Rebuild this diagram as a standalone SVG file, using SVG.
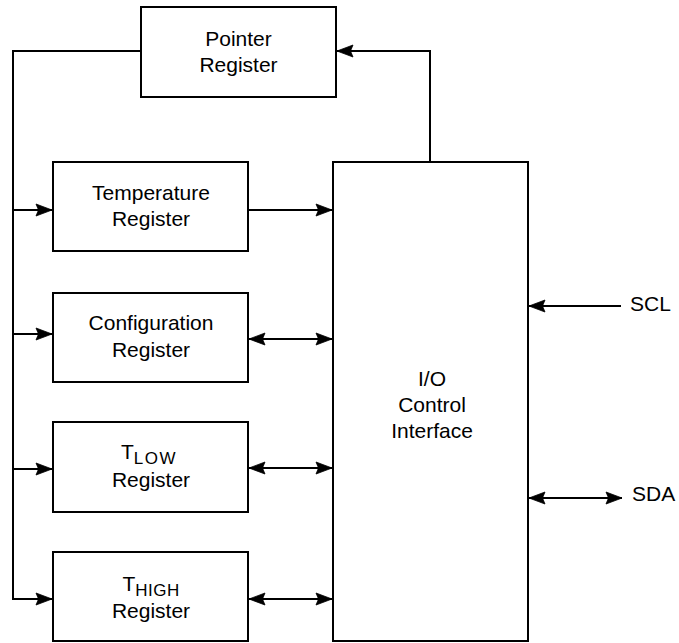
<svg xmlns="http://www.w3.org/2000/svg" width="679" height="643" viewBox="0 0 679 643">
<style>
.box{fill:#fff;stroke:#000;stroke-width:2}
.ln{fill:none;stroke:#000;stroke-width:2}
.t{font-family:"Liberation Sans",Arial,sans-serif;font-size:21px;fill:#000;text-anchor:middle}
.l{font-family:"Liberation Sans",Arial,sans-serif;font-size:21px;fill:#000}
</style>
<defs>
<marker id="ah" viewBox="-17 -7 18 14" markerWidth="18" markerHeight="14" refX="0" refY="0" markerUnits="userSpaceOnUse" orient="auto-start-reverse">
<path d="M0,0 L-16,-6 L-13.5,0 L-16,6 Z" fill="#000" stroke="#000" stroke-width="0.8" stroke-linejoin="miter"/>
</marker>
</defs>
<g id="connectors">
<path class="ln" d="M141,51 H13 V599 H52" marker-end="url(#ah)"/>
<path class="ln" d="M13,210 H52" marker-end="url(#ah)"/>
<path class="ln" d="M13,334 H52" marker-end="url(#ah)"/>
<path class="ln" d="M13,469 H52" marker-end="url(#ah)"/>
<path class="ln" d="M249,210 H332" marker-end="url(#ah)"/>
<path class="ln" d="M249,339 H332" marker-start="url(#ah)" marker-end="url(#ah)"/>
<path class="ln" d="M249,468 H332" marker-start="url(#ah)" marker-end="url(#ah)"/>
<path class="ln" d="M249,599 H332" marker-start="url(#ah)" marker-end="url(#ah)"/>
<path class="ln" d="M430,162 V51 H337" marker-end="url(#ah)"/>
<path class="ln" d="M621,306 H529" marker-end="url(#ah)"/>
<path class="ln" d="M529,498 H622" marker-start="url(#ah)" marker-end="url(#ah)"/>
</g>
<g id="pointer">
<rect class="box" x="141" y="7" width="195" height="90"/>
<text class="t" x="238.5" y="46">Pointer</text>
<text class="t" x="238.5" y="72">Register</text>
</g>
<g id="temperature">
<rect class="box" x="53" y="162" width="195" height="89"/>
<text class="t" x="151" y="200">Temperature</text>
<text class="t" x="151" y="226">Register</text>
</g>
<g id="configuration">
<rect class="box" x="53" y="293" width="195" height="89"/>
<text class="t" x="151" y="330">Configuration</text>
<text class="t" x="151" y="357">Register</text>
</g>
<g id="tlow">
<rect class="box" x="53" y="422" width="195" height="90"/>
<text class="l" x="121" y="459">T<tspan dy="4.5" font-size="17" letter-spacing="1.5">LOW</tspan></text>
<text class="t" x="151" y="487">Register</text>
</g>
<g id="thigh">
<rect class="box" x="53" y="552" width="195" height="89"/>
<text class="l" x="122.5" y="591">T<tspan dy="4.5" font-size="17" letter-spacing="0.5">HIGH</tspan></text>
<text class="t" x="151" y="618">Register</text>
</g>
<g id="io">
<rect class="box" x="333" y="162" width="195" height="479"/>
<text class="t" x="432" y="385.5">I/O</text>
<text class="t" x="432" y="411.5">Control</text>
<text class="t" x="432" y="437.5">Interface</text>
</g>
<g id="scl">
<text class="l" x="630" y="311" font-size="21.5">SCL</text>
</g>
<g id="sda">
<text class="l" x="632" y="501" font-size="21.5">SDA</text>
</g>
</svg>
